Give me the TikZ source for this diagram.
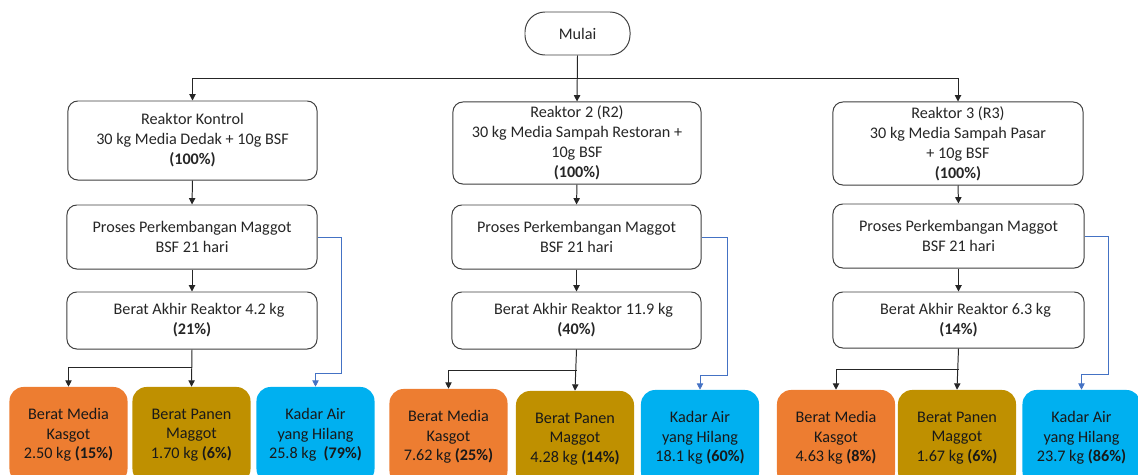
\documentclass[tikz,border=0pt]{standalone}
\usepackage{fontspec}
\setmainfont{Carlito}
\usepackage{xcolor}
\usetikzlibrary{arrows.meta}
\definecolor{kasgotorange}{RGB}{237, 125, 49}
\definecolor{panengold}{RGB}{191, 144, 0}
\definecolor{airblue}{RGB}{0, 176, 240}
\definecolor{airline}{RGB}{68, 114, 196}
\definecolor{boxgray}{RGB}{64, 64, 64}

\tikzset{
  procbox/.style={draw=boxgray, line width=0.7pt, rounded corners=7pt, fill=white,
    align=center, text=black!85, inner sep=0pt, font=\fontsize{11.5pt}{14.2pt}\selectfont},
  resbox/.style={rounded corners=10pt, align=center, text=black!90, inner sep=0pt,
    minimum width=2.95cm, minimum height=2.4cm, font=\fontsize{11.5pt}{13.9pt}\selectfont},
  arr/.style={-{Triangle[width=4.5pt,length=4.5pt]}, line width=0.7pt, draw=black!85},
  airarr/.style={-{Triangle[width=4.5pt,length=4.5pt]}, line width=0.55pt, draw=airline}
}

\begin{document}
\begin{tikzpicture}[x=0.025cm, y=-0.025cm]
    \useasboundingbox (0,0) rectangle (1138,474);
    \clip (0,0) rectangle (1138,474);

    % Start
    \node[procbox, rounded corners=0.5cm, minimum width=2.625cm, minimum height=1.075cm] (mulai) at (577.5,33.5) {Mulai};

    % Reactor boxes
    \node[procbox, minimum width=6.225cm, minimum height=1.975cm] (rk) at (192.5,140.5)
        {Reaktor Kontrol\\30 kg Media Dedak + 10g BSF\\\textbf{(100\%)}};
    \node[procbox, minimum width=6.2cm, minimum height=2.05cm] (r2) at (577,143)
        {Reaktor 2 (R2)\\30 kg Media Sampah Restoran +\\10g BSF\\\textbf{(100\%)}};
    \node[procbox, minimum width=6.25cm, minimum height=2.075cm] (r3) at (958,143.5)
        {Reaktor 3 (R3)\\30 kg Media Sampah Pasar\\+ 10g BSF\\\textbf{(100\%)}};

    % Maggot growth process
    \node[procbox, minimum width=6.25cm, minimum height=1.6cm] (p1) at (192,237)
        {Proses Perkembangan Maggot\\BSF 21 hari};
    \node[procbox, minimum width=6.225cm, minimum height=1.6cm] (p2) at (576.5,237)
        {Proses Perkembangan Maggot\\BSF 21 hari};
    \node[procbox, minimum width=6.275cm, minimum height=1.6cm] (p3) at (958.5,236)
        {Proses Perkembangan Maggot\\BSF 21 hari};

    % Final reactor weight
    \node[procbox, minimum width=6.25cm, minimum height=1.425cm] (a1) at (192,320.5)
        {\hspace{10pt}Berat Akhir Reaktor 4.2 kg\\\textbf{(21\%)}};
    \node[procbox, minimum width=6.225cm, minimum height=1.425cm] (a2) at (576.5,320.5)
        {\hspace{10pt}Berat Akhir Reaktor 11.9 kg\\\textbf{(40\%)}};
    \node[procbox, minimum width=6.275cm, minimum height=1.4cm] (a3) at (958.5,320)
        {\hspace{10pt}Berat Akhir Reaktor 6.3 kg\\\textbf{(14\%)}};

    % Result boxes
    \node[resbox, fill=kasgotorange] (o1) at (68.5,435) {Berat Media\\Kasgot\\2.50 kg \textbf{(15\%)}};
    \node[resbox, fill=panengold] (g1) at (191.5,435) {Berat Panen\\Maggot\\1.70 kg \textbf{(6\%)}};
    \node[resbox, fill=airblue] (w1) at (315.5,435) {Kadar Air\\yang Hilang\\25.8 kg\ \ \textbf{(79\%)}};

    \node[resbox, fill=kasgotorange] (o2) at (448.5,437) {Berat Media\\Kasgot\\7.62 kg \textbf{(25\%)}};
    \node[resbox, fill=panengold] (g2) at (575,439) {Berat Panen\\Maggot\\4.28 kg \textbf{(14\%)}};
    \node[resbox, fill=airblue] (w2) at (700,438) {Kadar Air\\yang Hilang\\18.1 kg \textbf{(60\%)}};

    \node[resbox, fill=kasgotorange] (o3) at (836,438) {Berat Media\\Kasgot\\4.63 kg \textbf{(8\%)}};
    \node[resbox, fill=panengold] (g3) at (957,438) {Berat Panen\\Maggot\\1.67 kg \textbf{(6\%)}};
    \node[resbox, fill=airblue] (w3) at (1081.5,438) {Kadar Air\\yang Hilang\\23.7 kg \textbf{(86\%)}};

    % Branching from start
    \coordinate (split) at (577.5,78);
    \draw[arr] (mulai.south) -- (r2.north);
    \draw[arr] (split) -| (rk.north);
    \draw[arr] (split) -| (r3.north);

    % Reactor chains
    \draw[arr] (rk.south) -- (p1.north);
    \draw[arr] (p1.south) -- (a1.north);
    \draw[arr] (r2.south) -- (p2.north);
    \draw[arr] (p2.south) -- (a2.north);
    \draw[arr] (r3.south) -- (p3.north);
    \draw[arr] (p3.south) -- (a3.north);

    % Splits to kasgot and harvest
    \coordinate (s1) at (192,367);
    \coordinate (s2) at (576.5,370);
    \coordinate (s3) at (958.5,369);
    \draw[arr] (a1.south) -- (g1.north);
    \draw[arr] (s1) -| (o1.north);
    \draw[arr] (a2.south) -- (g2.north);
    \draw[arr] (s2) -| (o2.north);
    \draw[arr] (a3.south) -- (g3.north);
    \draw[arr] (s3) -| (o3.north);

    % Water loss
    \coordinate (k1) at (341,373);
    \coordinate (k2) at (727,375);
    \coordinate (k3) at (1108,374);
    \draw[airarr] (p1.east) -| (k1) -| (w1.north);
    \draw[airarr] (p2.east) -| (k2) -| (w2.north);
    \draw[airarr] (p3.east) -| (k3) -| (w3.north);
\end{tikzpicture}
\end{document}
